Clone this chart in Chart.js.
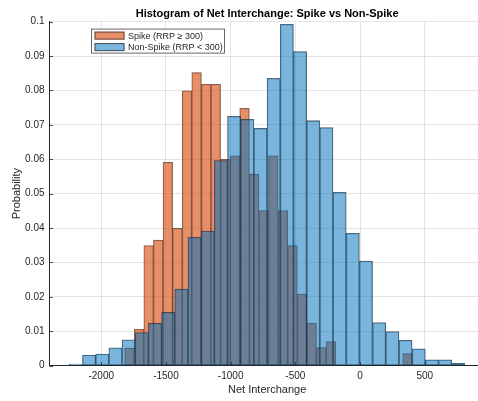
<!DOCTYPE html>
<html>
<head>
<meta charset="utf-8">
<script src="https://cdn.jsdelivr.net/npm/chart.js@4.4.1/dist/chart.umd.min.js"></script>
<style>
html, body { margin: 0; padding: 0; overflow: hidden; background: #ffffff; }
#wrap { width: 490px; height: 401px; }
</style>
</head>
<body>
<div id="wrap"><canvas id="c" width="490" height="401"></canvas></div>
<script>
// ---- data ----
const titleText = 'Histogram of Net Interchange: Spike vs Non-Spike';
const xAxisLabel = 'Net Interchange';
const yAxisLabel = 'Probability';
const seriesNames = ['Spike (RRP \u2265 300)', 'Non-Spike (RRP < 300)'];

const spikeEdges = [-1819.0, -1744.9, -1670.8, -1596.7, -1522.6, -1448.5, -1374.4, -1300.3, -1226.2, -1152.1,
  -1078.0, -1003.9, -929.8, -855.7, -781.6, -707.5, -633.4, -559.3, -485.2, -411.1,
  -337.0, -262.9, -188.8, -114.7, -40.6, 33.5, 107.6, 181.7, 255.8, 329.9, 404.0];
const spikeProb = [0.0051, 0.0106, 0.0349, 0.0365, 0.0591, 0.0399, 0.0799, 0.0852, 0.0818, 0.0818,
  0.0600, 0.0610, 0.0748, 0.0557, 0.0451, 0.0610, 0.0451, 0.0349, 0.0208, 0.0123,
  0.0053, 0.0070, 0, 0, 0, 0, 0, 0, 0, 0.0035];

const nonSpikeEdges = [-2247.0, -2145.1, -2043.2, -1941.3, -1839.4, -1737.5, -1635.6, -1533.7, -1431.8, -1329.9,
  -1228.0, -1126.1, -1024.2, -922.3, -820.4, -718.5, -616.6, -514.7, -412.8, -310.9,
  -209.0, -107.1, -5.2, 96.7, 198.6, 300.5, 402.4, 504.3, 606.2, 708.1, 810.0];
const nonSpikeProb = [0.0005, 0.0031, 0.0034, 0.0052, 0.0075, 0.0096, 0.0123, 0.0155, 0.0223, 0.0373,
  0.0391, 0.0596, 0.0725, 0.0716, 0.0690, 0.0835, 0.0992, 0.0913, 0.0712, 0.0692,
  0.0504, 0.0385, 0.0304, 0.0125, 0.0099, 0.0074, 0.0049, 0.0017, 0.0017, 0.0007];

const xTickValues = [-2000, -1500, -1000, -500, 0, 500];
const xTickLabels = ['-2000', '-1500', '-1000', '-500', '0', '500'];
const yTickValues = [0, 0.01, 0.02, 0.03, 0.04, 0.05, 0.06, 0.07, 0.08, 0.09, 0.1];
const yTickLabels = ['0', '0.01', '0.02', '0.03', '0.04', '0.05', '0.06', '0.07', '0.08', '0.09', '0.1'];
const xRange = [-2400, 964];
const yRange = [0, 0.1];

// ---- build histogram points (bin centres) ----
function toPoints(edges, probs) {
  return probs.map((p, i) => ({ x: (edges[i] + edges[i + 1]) / 2, y: p }));
}

const FONT = '"Liberation Sans", Arial, Helvetica, sans-serif';
const TXT = '#262626';
const GRID = 'rgba(38,38,38,0.12)';
const spikeFill = 'rgba(217,83,25,0.65)';
const nonSpikeFill = 'rgba(0,114,189,0.52)';
const edgeColor = 'rgba(38,38,38,0.7)';

const xTicksCommon = {
  afterBuildTicks: s => { s.ticks = xTickValues.map(v => ({ value: v })); }
};

// MATLAB-style inward tick marks, placed through the chart's own scales
const innerTicks = {
  id: 'innerTicks',
  afterDatasetsDraw(chart) {
    const { ctx, chartArea, scales } = chart;
    ctx.save();
    ctx.strokeStyle = TXT;
    ctx.lineWidth = 0.8;
    ctx.beginPath();
    scales.y.ticks.forEach(t => {
      const py = Math.round(scales.y.getPixelForValue(t.value)) + 0.5;
      ctx.moveTo(chartArea.left, py);
      ctx.lineTo(chartArea.left + 3.5, py);
    });
    scales.x.ticks.forEach(t => {
      const px = Math.round(scales.x.getPixelForValue(t.value)) + 0.5;
      ctx.moveTo(px, chartArea.bottom);
      ctx.lineTo(px, chartArea.bottom - 3.5);
    });
    ctx.stroke();
    ctx.restore();
  }
};

const boxLegend = {
  id: 'boxLegend',
  afterDraw(chart) {
    const { ctx, chartArea } = chart;
    const x0 = chartArea.left + 41.5, y0 = chartArea.top + 7;
    const w = 134, h = 25;
    ctx.save();
    ctx.fillStyle = '#ffffff';
    ctx.fillRect(x0, y0, w, h);
    ctx.strokeStyle = 'rgba(38,38,38,0.7)';
    ctx.lineWidth = 1;
    ctx.strokeRect(x0 + 0.5, y0 + 0.5, w - 1, h - 1);
    const ds = chart.data.datasets;
    const rows = [y0 + 7, y0 + 18.5];
    ctx.font = '9px ' + FONT;
    ctx.textBaseline = 'middle';
    ctx.textAlign = 'left';
    [0, 1].forEach(i => {
      const cy = rows[i];
      ctx.fillStyle = ds[i].backgroundColor;
      ctx.fillRect(x0 + 3.5, cy - 4, 30, 8);
      ctx.strokeStyle = edgeColor;
      ctx.lineWidth = 1;
      ctx.strokeRect(x0 + 4, cy - 3.5, 29, 7);
      ctx.fillStyle = TXT;
      ctx.fillText(ds[i].label, x0 + 37, cy + 0.5);
    });
    ctx.restore();
  }
};

new Chart(document.getElementById('c'), {
  type: 'bar',
  data: {
    datasets: [
      {
        label: seriesNames[0],
        data: toPoints(spikeEdges, spikeProb),
        xAxisID: 'x',
        backgroundColor: spikeFill,
        borderColor: edgeColor,
        borderWidth: 0.6,
        borderSkipped: false,
        barPercentage: 1,
        categoryPercentage: 1,
        grouped: false,
        order: 1
      },
      {
        label: seriesNames[1],
        data: toPoints(nonSpikeEdges, nonSpikeProb),
        xAxisID: 'x2',
        backgroundColor: nonSpikeFill,
        borderColor: edgeColor,
        borderWidth: 0.6,
        borderSkipped: false,
        barPercentage: 1,
        categoryPercentage: 1,
        grouped: false,
        order: 0
      }
    ]
  },
  options: {
    responsive: false,
    animation: false,
    events: [],
    layout: { padding: { left: 0, right: 5.2, top: 0, bottom: 0 } },
    plugins: {
      legend: { display: false },
      tooltip: { enabled: false },
      title: {
        display: true,
        text: titleText,
        fullSize: false,
        color: '#000000',
        font: { family: FONT, size: 11, weight: 'bold' },
        padding: { top: 7.5, bottom: 0.9 }
      }
    },
    scales: {
      x: {
        type: 'linear',
        min: xRange[0],
        max: xRange[1],
        offset: false,
        grid: { color: GRID, drawTicks: false, offset: false },
        border: { display: true, color: TXT, width: 1 },
        ticks: {
          color: TXT,
          font: { family: FONT, size: 10 },
          padding: 4.5,
          maxRotation: 0,
          includeBounds: false,
          callback: (v, i) => xTickLabels[i]
        },
        afterBuildTicks: xTicksCommon.afterBuildTicks,
        afterFit: s => { s.height = 35.3; },
        title: {
          display: true,
          text: xAxisLabel,
          color: TXT,
          font: { family: FONT, size: 11 },
          padding: { top: 0, bottom: 4.4 }
        }
      },
      x2: {
        type: 'linear',
        display: false,
        min: xRange[0],
        max: xRange[1],
        offset: false,
        grid: { offset: false },
        ticks: { includeBounds: false },
        afterBuildTicks: xTicksCommon.afterBuildTicks
      },
      y: {
        type: 'linear',
        min: yRange[0],
        max: yRange[1],
        grid: { color: GRID, drawTicks: false },
        border: { display: true, color: TXT, width: 1 },
        ticks: {
          color: TXT,
          font: { family: FONT, size: 10 },
          padding: 5,
          callback: (v, i) => yTickLabels[i]
        },
        afterBuildTicks: s => { s.ticks = yTickValues.map(v => ({ value: v })); },
        afterFit: s => { s.width = 49.5; },
        title: {
          display: true,
          text: yAxisLabel,
          color: TXT,
          font: { family: FONT, size: 11 },
          padding: { top: 10.4, bottom: 0 }
        }
      }
    }
  },
  plugins: [innerTicks, boxLegend]
});
</script>
</body>
</html>
